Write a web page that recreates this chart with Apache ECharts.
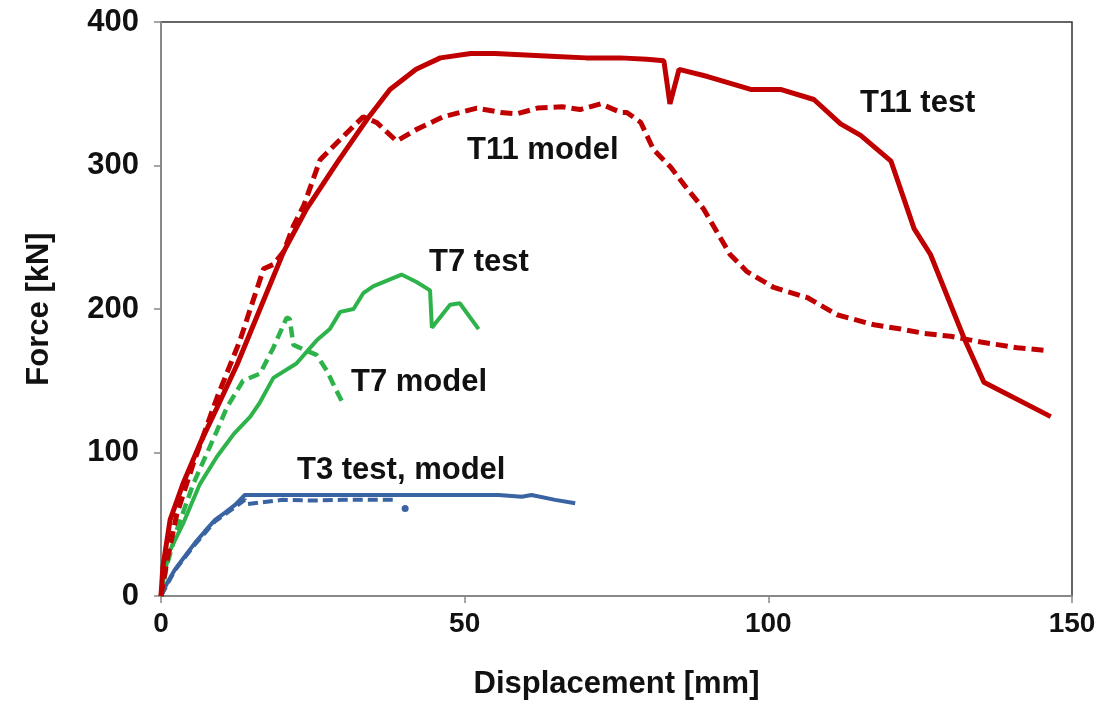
<!DOCTYPE html>
<html>
<head>
<meta charset="utf-8">
<script src="https://cdn.jsdelivr.net/npm/echarts@6/dist/echarts.min.js"></script>
<style>
html,body{margin:0;padding:0;background:#fff;}
#chart{width:1113px;height:705px;}
</style>
</head>
<body>
<div id="chart"></div>
<script>
// ---- data (displacement mm, force kN) ----
const t11TestX = [0,0.3,1.5,3.6,6.4,9.2,12.5,16.3,20.2,24,29,33.9,37.7,42,46,51,55,60,65,70,75.6,80,82.8,83.8,85.3,90,97.1,102,107.5,111.9,115.2,120.2,124,126.7,132.2,135.5,146.5];
const t11TestY = [0,20,53,78,106,131,161,200,240,270,302,332,353,367,375,378,378,377,376,375,375,374,373,343,367,362,353,353,346,329,321,303,256,238,180,149,125];

const t11ModelX = [0,1,2.6,5.3,9.2,13,14.7,16.9,18.5,20.2,21.8,23.5,26.2,29,33.3,35.5,38.8,42,46.5,52,55.9,58.6,62,66,69,72.4,75.7,76.7,79,81.1,83.9,86.6,89.3,91.5,93.7,96.5,100.9,106.4,111.3,117.4,121.8,125.7,130,135,141,146];
const t11ModelY = [0,25,57,92,138,178,200,228,231,240,258,272,304,316,334,330,317,325,334,340,337,336,340,341,339,343,337,337,330,311,299,284,270,254,238,226,215,208,196,189,186,183,181,177,173,171];

const t7TestX = [0,0.5,1.5,3.7,6.4,9.2,12,14.7,16.3,18.5,22.3,25.6,27.8,29.5,31.7,33.3,35,39.6,42,44.3,44.6,47.6,49.2,52.3];
const t7TestY = [0,15,32,51,78,97,113,125,135,152,162,178,186,198,200,211,216,224,219,213,187,203,204,186];

const t7ModelX = [0,1,2.6,5.3,9.2,10.8,13.5,16.3,18.5,20.7,21.2,21.8,23.4,25.6,27.3,28.9,30];
const t7ModelY = [0,22,46,78,115,131,150,155,173,194,193,175,172,168,157,143,134];

const t3TestX = [0,1,2.3,4,5.6,7.2,8.9,10.5,12.2,13.8,20,30,40,50,55.6,59.4,61,64.9,68.2];
const t3TestY = [0,9,18.5,28,37,45,53,58,63.5,70.4,70.4,70.4,70.4,70.4,70.4,69.2,70.4,67,64.6];

const t3ModelX = [0,2.3,5.6,8.9,12.2,13.8,14.2,20,25,30,35,38.5,39.5,40.2];
const t3ModelY = [0,18,36,52,62,67,64,67,66.5,67,67,67,null,61];

const xTicks = [0,50,100,150];
const yTicks = [0,100,200,300,400];

const labels = [
  {text:'T11 test', left:860, mid:103},
  {text:'T11 model', left:467, mid:150},
  {text:'T7 test', left:429, mid:262},
  {text:'T7 model', left:351, mid:382},
  {text:'T3 test, model', left:297, mid:470}
];

function pairs(xs, ys){ return xs.map((x,i)=>[x, ys[i]]); }

const RED = '#C00000', GREEN = '#2DB34A', BLUE = '#3A63A2';
const FONT = 'Liberation Sans';

const t3ModelData = pairs(t3ModelX, t3ModelY).map((p,i,arr)=> i===arr.length-1 ? {value:p, symbol:'circle', symbolSize:7} : p);

const chart = echarts.init(document.getElementById('chart'), null, {renderer:'canvas'});
chart.setOption({
  animation:false,
  backgroundColor:'#fff',
  grid:{left:161, right:41, top:22, bottom:105, show:true, borderColor:'#333', borderWidth:1.5, backgroundColor:'transparent'},
  xAxis:{
    type:'value', min:0, max:150, interval:50,
    name:'Displacement [mm]', nameLocation:'middle', nameGap:73,
    nameTextStyle:{fontFamily:FONT, fontWeight:'bold', fontSize:31, color:'#111'},
    axisLine:{show:true, onZero:false, lineStyle:{color:'#888', width:2}},
    axisTick:{show:true, length:7, lineStyle:{color:'#888', width:1.5}},
    axisLabel:{fontFamily:FONT, fontWeight:'bold', fontSize:28, color:'#111', margin:14,
      formatter:v=> xTicks.includes(v) ? String(v) : ''},
    splitLine:{show:false}
  },
  yAxis:{
    type:'value', min:0, max:400, interval:100,
    name:'Force [kN]', nameLocation:'middle', nameGap:106, nameRotate:90,
    nameTextStyle:{fontFamily:FONT, fontWeight:'bold', fontSize:31, color:'#111'},
    axisLine:{show:true, onZero:false, lineStyle:{color:'#888', width:2}},
    axisTick:{show:true, length:7, lineStyle:{color:'#888', width:1.5}},
    axisLabel:{fontFamily:FONT, fontWeight:'bold', fontSize:31, color:'#111', margin:22,
      formatter:v=> yTicks.includes(v) ? String(v) : ''},
    splitLine:{show:false}
  },
  series:[
    {name:'T3 model', type:'line', data:t3ModelData, showSymbol:true, symbol:'none', itemStyle:{color:BLUE},
      lineStyle:{color:BLUE, width:4, type:[10,5]}},
    {name:'T3 test', type:'line', data:pairs(t3TestX,t3TestY), showSymbol:false, lineStyle:{color:BLUE, width:4}},
    {name:'T7 model', type:'line', data:pairs(t7ModelX,t7ModelY), showSymbol:false, lineStyle:{color:GREEN, width:4.5, type:[11,6]}},
    {name:'T7 test', type:'line', data:pairs(t7TestX,t7TestY), showSymbol:false, lineStyle:{color:GREEN, width:4}},
    {name:'T11 model', type:'line', data:pairs(t11ModelX,t11ModelY), showSymbol:false, lineStyle:{color:RED, width:5, type:[12,6]}},
    {name:'T11 test', type:'line', data:pairs(t11TestX,t11TestY), showSymbol:false, lineStyle:{color:RED, width:5}}
  ],
  graphic: labels.map(l=>({type:'text', x:l.left, y:l.mid,
    style:{text:l.text, font:'bold 31px "Liberation Sans"', fill:'#111', verticalAlign:'middle', align:'left'}}))
});
</script>
</body>
</html>
